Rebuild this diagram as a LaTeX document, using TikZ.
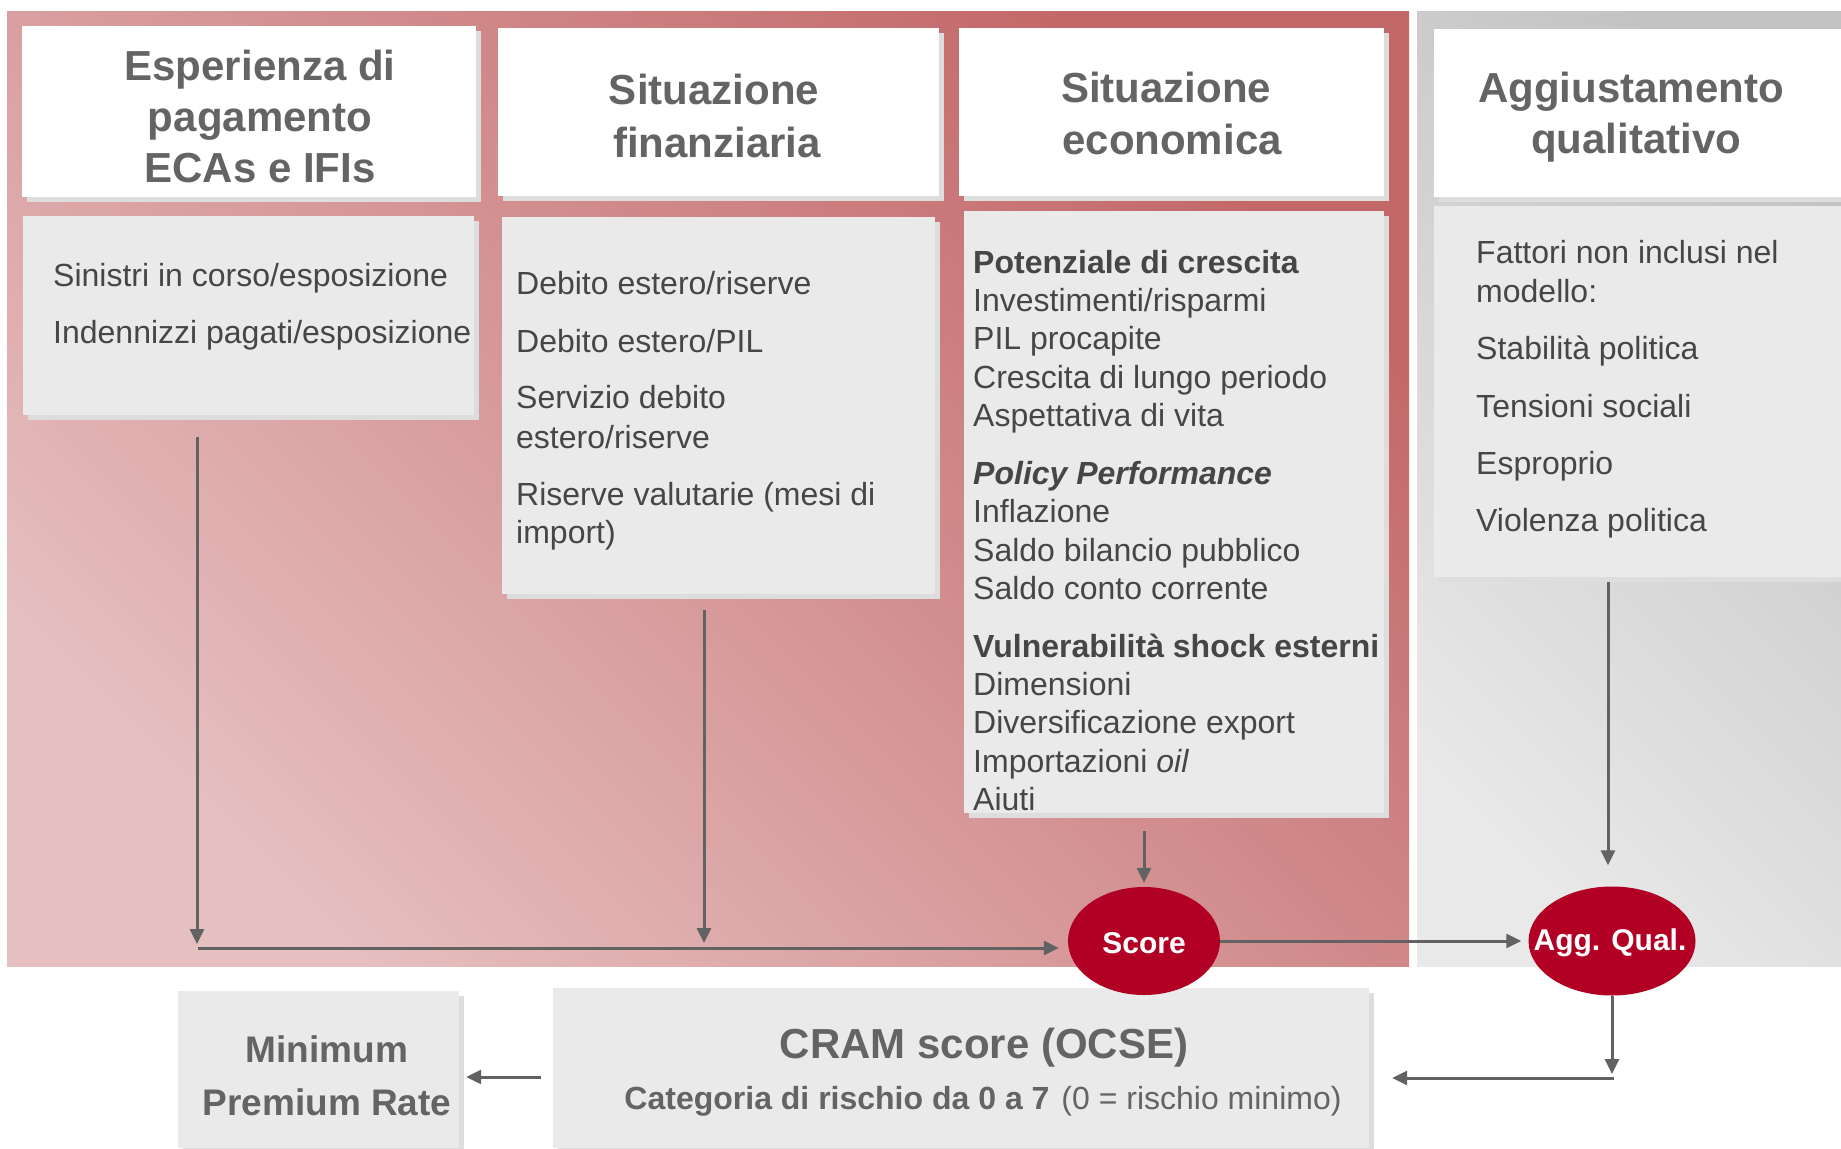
\documentclass[tikz,border=0pt]{standalone}
\usepackage{fontspec}
\setmainfont{Liberation Sans}
\usetikzlibrary{arrows.meta,shapes.geometric}
\definecolor{hdrtxt}{HTML}{646464}
\definecolor{bodytxt}{HTML}{464646}
\definecolor{boxgray}{HTML}{EAEAEA}
\definecolor{shadowgray}{HTML}{DDDDDD}
\definecolor{redL}{HTML}{E6BFC0}
\definecolor{redD}{HTML}{C36869}
\definecolor{grayL}{HTML}{E9E9E9}
\definecolor{grayD}{HTML}{C3C3C3}
\definecolor{scorered}{HTML}{B10024}
\definecolor{arrowgray}{HTML}{626262}
\begin{document}
\begin{tikzpicture}[x=1pt,y=-1pt,
  hdrbox/.style={fill=white, inner sep=0, draw=none,
    preaction={fill=shadowgray, transform canvas={shift={(5pt,-5pt)}}}},
  bodybox/.style={fill=boxgray, inner sep=0, draw=none,
    preaction={fill=shadowgray, transform canvas={shift={(5pt,-5pt)}}}},
  hdrtext/.style={inner sep=0, anchor=base, text=hdrtxt,
    font=\fontsize{42}{50}\selectfont\bfseries},
  btext/.style={inner sep=0, anchor=base west, text=bodytxt,
    font=\fontsize{32}{38}\selectfont},
  bbold/.style={btext, font=\fontsize{32}{38}\selectfont\bfseries},
  bottomtext/.style={inner sep=0, anchor=base, text=hdrtxt},
  oval/.style={ellipse, fill=scorered, inner sep=0},
  ovaltext/.style={inner sep=0, text=white,
    font=\fontsize{30}{36}\selectfont\bfseries},
  arr/.style={draw=arrowgray, line width=3pt,
    -{Triangle[length=15pt,width=14pt]}}
]
\useasboundingbox (0,0) rectangle (1841,1148);
\fill[white] (0,0) rectangle (1841,1148);

% backgrounds
\shade[left color=redL, right color=redD, shading angle=135]
  (7,12) rectangle (1409,966);
\shade[left color=grayL, right color=grayD, shading angle=135]
  (1417,12) rectangle (1841,966);

% header boxes
\node[hdrbox, minimum width=454pt, minimum height=171pt] (h1) at (249,111.5) {};
\node[hdrbox, minimum width=441pt, minimum height=167pt] (h2) at (718.5,112) {};
\node[hdrbox, minimum width=425pt, minimum height=167pt] (h3) at (1171.5,112) {};
\node[hdrbox, minimum width=407pt, minimum height=168pt] (h4) at (1637.5,113) {};

% body boxes
\node[bodybox, minimum width=451pt, minimum height=199pt] (b1) at (248.5,315.5) {};
\node[bodybox, minimum width=433pt, minimum height=377pt] (b2) at (718.5,405.5) {};
\node[bodybox, minimum width=420pt, minimum height=602pt] (b3) at (1174,512) {};
\node[bodybox, minimum width=407pt, minimum height=371pt] (b4) at (1637.5,391.5) {};

% header texts
\node[hdrtext] (h1a) at (260,81) {Esperienza di};
\node[hdrtext] (h1b) at (260,131.5) {pagamento};
\node[hdrtext] (h1c) at (260,182) {ECAs e IFIs};
\node[hdrtext] (h2a) at (714,104) {Situazione};
\node[hdrtext] (h2b) at (717,157) {finanziaria};
\node[hdrtext] (h3a) at (1166,102) {Situazione};
\node[hdrtext] (h3b) at (1172,154) {economica};
\node[hdrtext] (h4a) at (1631,102) {Aggiustamento};
\node[hdrtext] (h4b) at (1636,153) {qualitativo};

% body 1
\node[btext] (t11) at (53,286) {Sinistri in corso/esposizione};
\node[btext] (t12) at (53,343) {Indennizzi pagati/esposizione};

% body 2
\node[btext] (t21) at (516,294) {Debito estero/riserve};
\node[btext] (t22) at (516,352) {Debito estero/PIL};
\node[btext] (t23) at (516,408) {Servizio debito};
\node[btext] (t24) at (516,448) {estero/riserve};
\node[btext] (t25) at (516,505) {Riserve valutarie (mesi di};
\node[btext] (t26) at (516,543) {import)};

% body 3
\node[bbold] (t31) at (973,273) {Potenziale di crescita};
\node[btext] (t32) at (973,311) {Investimenti/risparmi};
\node[btext] (t33) at (973,349) {PIL procapite};
\node[btext] (t34) at (973,388) {Crescita di lungo periodo};
\node[btext] (t35) at (973,426) {Aspettativa di vita};
\node[bbold] (t36) at (973,484) {\itshape Policy Performance};
\node[btext] (t37) at (973,522) {Inflazione};
\node[btext] (t38) at (973,561) {Saldo bilancio pubblico};
\node[btext] (t39) at (973,599) {Saldo conto corrente};
\node[bbold] (t310) at (973,657) {Vulnerabilità shock esterni};
\node[btext] (t311) at (973,695) {Dimensioni};
\node[btext] (t312) at (973,733) {Diversificazione export};
\node[btext] (t313) at (973,772) {Importazioni \itshape oil};
\node[btext] (t314) at (973,810) {Aiuti};

% body 4
\node[btext] (t41) at (1476,263) {Fattori non inclusi nel};
\node[btext] (t42) at (1476,302) {modello:};
\node[btext] (t43) at (1476,359) {Stabilità politica};
\node[btext] (t44) at (1476,417) {Tensioni sociali};
\node[btext] (t45) at (1476,474) {Esproprio};
\node[btext] (t46) at (1476,531) {Violenza politica};

% bottom boxes
\node[bodybox, minimum width=816pt, minimum height=160pt] (cram) at (961,1068) {};
\node[bodybox, minimum width=281pt, minimum height=157pt] (mpr) at (318.5,1069.5) {};
\node[bottomtext, font=\fontsize{42}{50}\selectfont\bfseries] (cram1) at (984,1058) {CRAM score (OCSE)};
\node[bottomtext, font=\fontsize{32}{38}\selectfont] (cram2) at (983,1109)
  {\textbf{Categoria di rischio da 0 a 7}\hspace{12pt}(0 = rischio minimo)};
\node[bottomtext, font=\fontsize{37}{44}\selectfont\bfseries] (mpr1) at (327,1062) {Minimum};
\node[bottomtext, font=\fontsize{37}{44}\selectfont\bfseries] (mpr2) at (327,1115) {Premium Rate};

% ovals
\node[oval, minimum width=152pt, minimum height=108pt] (score) at (1144,941) {};
\node[ovaltext] (scoret) at (1144,943) {Score};
\node[oval, minimum width=167pt, minimum height=109pt] (agg) at (1612,941) {};
\node[ovaltext] (aggt) at (1610,943) {Agg. Qual.};

% connector coordinates
\coordinate (a1s) at (197,437);
\coordinate (a1e) at (197,944);
\coordinate (a2s) at (704,610);
\coordinate (a2e) at (704,943);
\coordinate (hs) at (198,948);
\coordinate (a3s) at (1144,831);
\coordinate (a4s) at (1608,582);
\coordinate (c1) at (1612,1074);
\coordinate (c2) at (1614,1078);
\coordinate (m1) at (541,1077);

% connectors
\draw[arr] (a1s) -- (a1e);
\draw[arr] (a2s) -- (a2e);
\draw[arr, shorten >=9pt] (hs) -- (hs -| score.west);
\draw[arr, shorten >=4pt] (a3s) -- (score.north);
\draw[arr, shorten >=21pt] (a4s) -- (a4s |- agg.north);
\draw[arr, shorten >=7pt] (score.east) -- (agg.west);
\draw[arr] (agg.south) -- (c1);
\draw[arr, shorten >=23pt] (c2) -- (c2 -| cram.east);
\draw[arr, shorten >=7pt] (m1) -- (m1 -| mpr.east);
\end{tikzpicture}
\end{document}
